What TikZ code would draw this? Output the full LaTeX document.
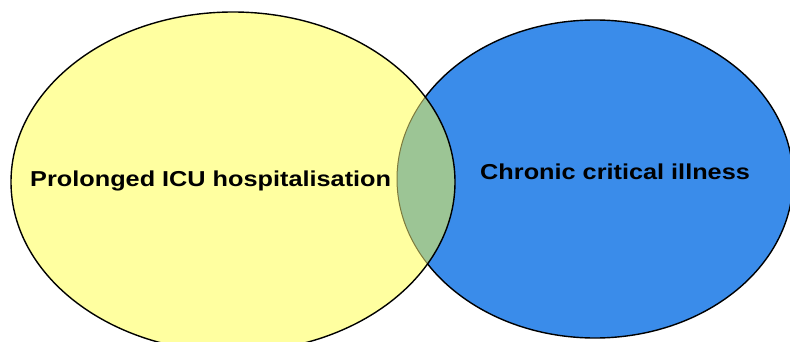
\documentclass[tikz,border=0pt]{standalone}
\usepackage{fontspec}
\setmainfont{Liberation Sans}
\begin{document}
\begin{tikzpicture}[x=1pt,y=-1pt,
  lbl/.style={font=\fontsize{21.6}{24}\selectfont\bfseries, inner sep=0pt, xscale=1.17},
  border/.style={line width=1.4pt, draw=black}]
\definecolor{yel}{HTML}{FFFFA0}
\definecolor{blu}{HTML}{3A8CEA}
\definecolor{grn}{HTML}{9CC595}
\definecolor{olv}{HTML}{7D7A3C}
\useasboundingbox (0,0) rectangle (790,342);
\clip (0,0) rectangle (790,342);
% blue ellipse
\fill[blu] (595,179) ellipse [x radius=198, y radius=159];
\draw[border] (595,179) ellipse [x radius=198, y radius=159];
% yellow ellipse
\fill[yel] (233,182) ellipse [x radius=222, y radius=170];
% overlap
\begin{scope}
  \clip (233,182) ellipse [x radius=222, y radius=170];
  \fill[grn] (595,179) ellipse [x radius=198, y radius=159];
  \draw[line width=1pt, olv] (595,179) ellipse [x radius=198, y radius=159];
\end{scope}
\draw[border] (233,182) ellipse [x radius=222, y radius=170];
\node[lbl, anchor=base west] (pl) at (30,186) {Prolonged ICU hospitalisation};
\node[lbl, anchor=base west] (cc) at (480,179.3) {Chronic critical illness};
\end{tikzpicture}
\end{document}
